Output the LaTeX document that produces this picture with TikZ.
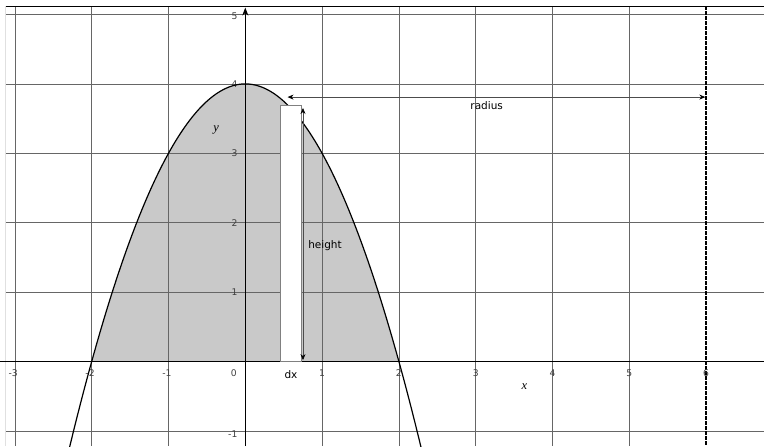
\documentclass[tikz,border=0pt]{standalone}
\usepackage{fontspec}
\newfontfamily\lblfont{DejaVu Sans}
\newfontfamily\axfont{Liberation Serif}
\usetikzlibrary{arrows.meta}
\begin{document}
\begin{tikzpicture}[x=76.8pt,y=69.4pt,
  gridline/.style={draw=black!60,line width=0.6pt},
  axisline/.style={draw=black,line width=0.8pt},
  curveline/.style={draw=black,line width=1.2pt},
  ticklbl/.style={font=\lblfont\fontsize{9.2}{10}\selectfont,inner sep=0pt,text=black!75},
  lbl/.style={font=\lblfont\fontsize{10.5}{12}\selectfont,inner sep=0pt},
  axlbl/.style={font=\axfont\itshape\fontsize{12.5}{14}\selectfont,inner sep=0pt},
  stripbox/.style={draw=black!50,fill=white,line width=0.6pt,inner sep=0pt,outer sep=0pt,anchor=south west,minimum width=21pt,minimum height=255.8pt},
  dimarrow/.style={draw=black!70,line width=0.7pt,{Stealth[length=6pt,width=5pt,black]}-{Stealth[length=6pt,width=5pt,black]}},
]
\useasboundingbox (-3.194,-1.2176) rectangle (6.754,5.209);
\begin{scope}
\clip (-3.194,-1.2176) rectangle (6.754,5.209);
% shaded region
\fill[gray!42] (-2,0) -- plot[domain=-2:2,samples=120] (\x,{4-\x*\x}) -- cycle;
% grid
\foreach \i in {-3,-2,-1,1,2,3,4,5}
  \draw[gridline] (\i,5.122) -- (\i,-1.2176);
\foreach \j in {-1,1,2,3,4,5}
  \draw[gridline] (-3.129,\j) -- (6.754,\j);
\draw[black,line width=0.7pt] (-3.129,5.122) -- (6.754,5.122);
\draw[black!12,line width=0.6pt] (-3.129,5.122) -- (-3.129,-1.2176);
% dashed line x = 6
\coordinate (dt) at (6,5.122);
\coordinate (db) at (6,-1.2176);
\draw[black,line width=1.3pt,dash pattern=on 3.5pt off 1.5pt] (dt) -- (db);
% tick labels
\foreach \i/\t in {-3/{\llap{-}3},-2/{\llap{-}2},-1/{\llap{-}1},1/1,2/2,3/3,4/4,5/5,6/6}
  \node[ticklbl] (tx\i) at (\i,-0.166) {\t};
\node[ticklbl] (tx0) at (-0.15,-0.166) {0};
\foreach \j in {1,2,3,4}
  \node[ticklbl,anchor=east] (ty\j) at (-0.1,\j) {\j};
\node[ticklbl,anchor=east] (ty5) at (-0.1,4.975) {5};
\node[ticklbl,anchor=east] (tym1) at (-0.1,-1.04) {-1};
% axes
\coordinate (xl) at (-3.194,0);
\coordinate (xr) at (6.754,0);
\coordinate (yb) at (0,-1.2176);
\coordinate (yt) at (0,5.10);
\draw[axisline] (xl) -- (xr);
\draw[axisline,-{Stealth[length=8pt,width=6pt]}] (yb) -- (yt);
% parabola
\draw[curveline] plot[domain=-2.3:2.3,samples=150] (\x,{4-\x*\x});
\end{scope}
% strip
\node[stripbox] (strip) at (0.452,0) {};
% height arrow
\coordinate (htop) at (0.751,3.653);
\coordinate (hbot) at (0.751,0.02);
\draw[dimarrow] (htop) -- (hbot);
% radius arrow
\coordinate (rl) at (0.55,3.81);
\coordinate (rr) at (5.99,3.81);
\draw[dimarrow] (rl) -- (rr);
% labels
\node[lbl] (radius) at (3.143,3.686) {radius};
\node[lbl] (height) at (1.038,1.664) {height};
\node[lbl] (dx) at (0.595,-0.195) {dx};
\node[axlbl] (xlab) at (3.633,-0.363) {x};
\node[axlbl] (ylab) at (-0.381,3.336) {y};
\end{tikzpicture}
\end{document}
